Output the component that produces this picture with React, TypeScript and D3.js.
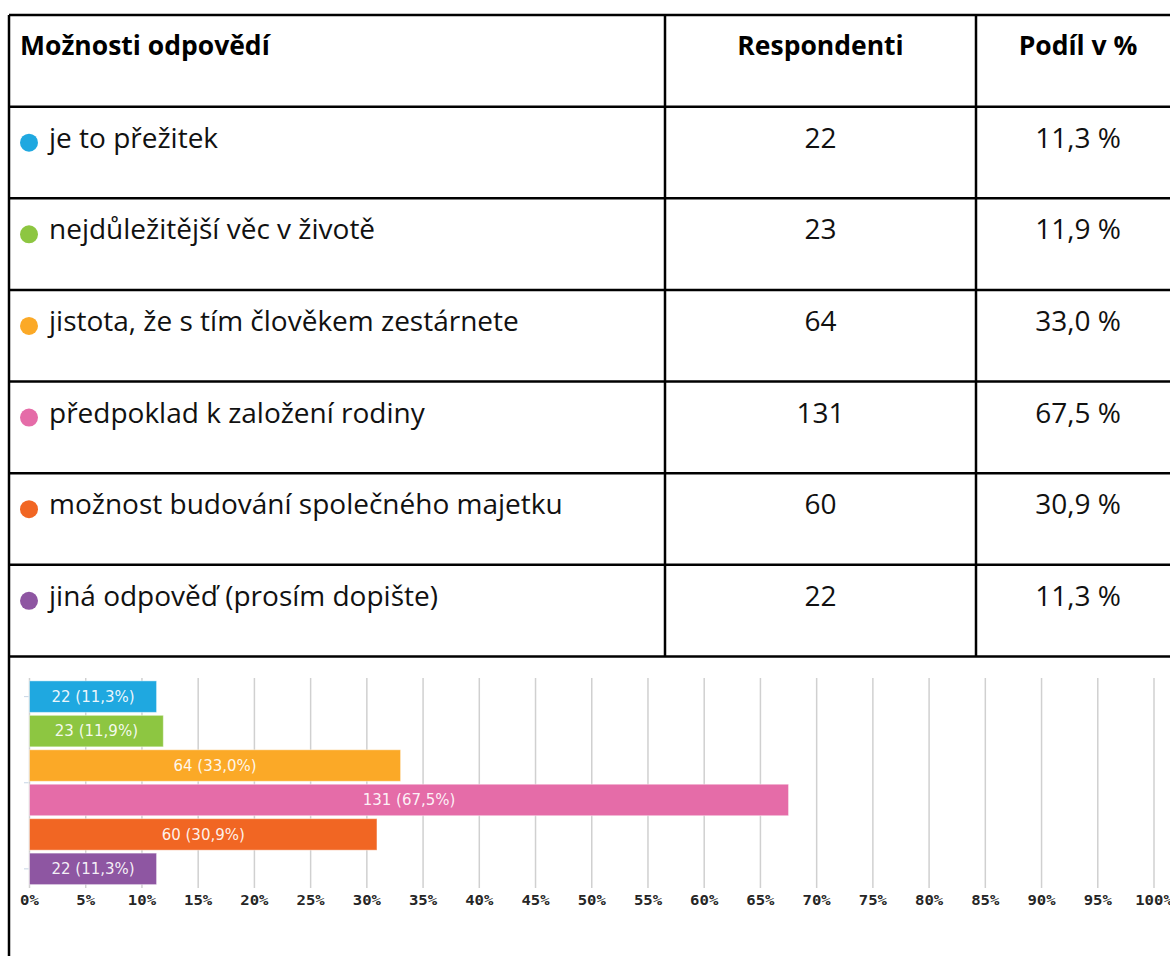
import React, { useEffect, useRef } from 'react';
import * as d3 from 'd3';

const categories = [
  'je to přežitek',
  'nejdůležitější věc v životě',
  'jistota, že s tím člověkem zestárnete',
  'předpoklad k založení rodiny',
  'možnost budování společného majetku',
  'jiná odpověď (prosím dopište)',
];
const respondents = [22, 23, 64, 131, 60, 22];
const shares = [11.3, 11.9, 33.0, 67.5, 30.9, 11.3];
const colors = ['#1fa8e0', '#8dc641', '#fba927', '#e56ca8', '#f16623', '#8e56a2'];
const headers = ['Možnosti odpovědí', 'Respondenti', 'Podíl v %'];
const xTicks = d3.range(0, 101, 5);

const fmt = (v: number) => v.toFixed(1).replace('.', ',');

const App = () => {
  const svgRef = useRef<SVGSVGElement>(null);

  useEffect(() => {
    const svg = d3.select(svgRef.current);
    svg.selectAll('*').remove();

    // ---- table ----
    const colX = [9, 665, 976, 1182];
    const rowY = d3.scaleLinear().domain([0, 7]).range([15, 656.5]);
    const lines = svg.append('g').attr('stroke', '#000').attr('stroke-width', 2.5);

    d3.range(0, 8).forEach(i => {
      lines.append('line')
        .attr('x1', colX[0]).attr('x2', colX[3])
        .attr('y1', rowY(i)).attr('y2', rowY(i));
    });
    colX.forEach((x, i) => {
      lines.append('line')
        .attr('x1', x).attr('x2', x)
        .attr('y1', rowY(0)).attr('y2', i === 0 || i === 3 ? 956 : rowY(7));
    });

    const header = svg.append('g')
      .style('font-family', '"Open Sans", "Noto Sans", sans-serif')
      .style('font-weight', 700)
      .style('font-size', '26.5px')
      .attr('fill', '#000');
    header.append('text').attr('x', 20).attr('y', rowY(0) + 40).text(headers[0]);
    header.append('text').attr('x', (colX[1] + colX[2]) / 2).attr('y', rowY(0) + 40)
      .attr('text-anchor', 'middle').text(headers[1]);
    header.append('text').attr('x', 1078).attr('y', rowY(0) + 40)
      .attr('text-anchor', 'middle').text(headers[2]);

    const body = svg.append('g')
      .style('font-family', '"Open Sans", "Noto Sans", sans-serif')
      .style('font-size', '28px')
      .attr('fill', '#111');
    categories.forEach((c, i) => {
      const top = rowY(i + 1);
      body.append('circle').attr('cx', 29).attr('cy', top + 36).attr('r', 9).attr('fill', colors[i]);
      body.append('text').attr('x', 49).attr('y', top + 41).text(c);
      body.append('text').attr('x', (colX[1] + colX[2]) / 2).attr('y', top + 41)
        .attr('text-anchor', 'middle').text(respondents[i]);
      body.append('text').attr('x', 1078).attr('y', top + 41)
        .attr('text-anchor', 'middle').text(`${fmt(shares[i])} %`);
    });

    // ---- bar chart ----
    const x = d3.scaleLinear().domain([0, 100]).range([29.5, 1154]);
    const y = d3.scaleBand().domain(categories).range([679.5, 886]).paddingInner(0.085).paddingOuter(0.04);
    const gTop = 678, gBottom = 888;

    svg.append('g')
      .selectAll('line')
      .data(xTicks)
      .enter()
      .append('line')
      .attr('x1', d => x(d)).attr('x2', d => x(d))
      .attr('y1', gTop).attr('y2', gBottom)
      .attr('stroke', '#d0d0d0')
      .attr('stroke-width', 1.5);

    svg.append('g')
      .selectAll('text')
      .data(xTicks)
      .enter()
      .append('text')
      .attr('x', d => x(d))
      .attr('y', 904.5)
      .attr('text-anchor', 'middle')
      .attr('fill', '#262626')
      .attr('textLength', d => `${d}%`.length * 9.4)
      .attr('lengthAdjust', 'spacingAndGlyphs')
      .style('font-family', '"DejaVu Sans Mono", monospace')
      .style('font-weight', 700)
      .style('font-size', '14px')
      .text(d => `${d}%`);

    const yTicks = [
      (y(categories[0]) as number) + y.bandwidth() / 2,
      (y.range()[0] + y.range()[1]) / 2,
      (y(categories[5]) as number) + y.bandwidth() / 2,
    ];
    svg.append('g')
      .selectAll('line')
      .data(yTicks)
      .enter()
      .append('line')
      .attr('x1', 24).attr('x2', 28.5)
      .attr('y1', d => d).attr('y2', d => d)
      .attr('stroke', '#c6d4e4')
      .attr('stroke-width', 1);

    svg.append('g')
      .selectAll('rect')
      .data(categories)
      .enter()
      .append('rect')
      .attr('x', x(0))
      .attr('y', d => y(d) as number)
      .attr('width', (d, i) => x(shares[i]) - x(0))
      .attr('height', y.bandwidth())
      .attr('fill', (d, i) => colors[i])
      .attr('stroke', 'rgba(255,255,255,0.45)')
      .attr('stroke-width', 1);

    svg.append('g')
      .selectAll('text')
      .data(categories)
      .enter()
      .append('text')
      .attr('x', (d, i) => (x(0) + x(shares[i])) / 2)
      .attr('y', d => (y(d) as number) + y.bandwidth() / 2)
      .attr('dy', '0.36em')
      .attr('text-anchor', 'middle')
      .attr('fill', 'rgba(255,255,255,0.92)')
      .style('font-family', '"DejaVu Sans", sans-serif')
      .style('font-size', '15px')
      .text((d, i) => `${respondents[i]} (${fmt(shares[i])}%)`);
  }, []);

  return (
    <svg
      ref={svgRef}
      width={1170}
      height={956}
      style={{ position: 'absolute', left: 0, top: 0, background: '#fff' }}
    />
  );
};

export default App;
